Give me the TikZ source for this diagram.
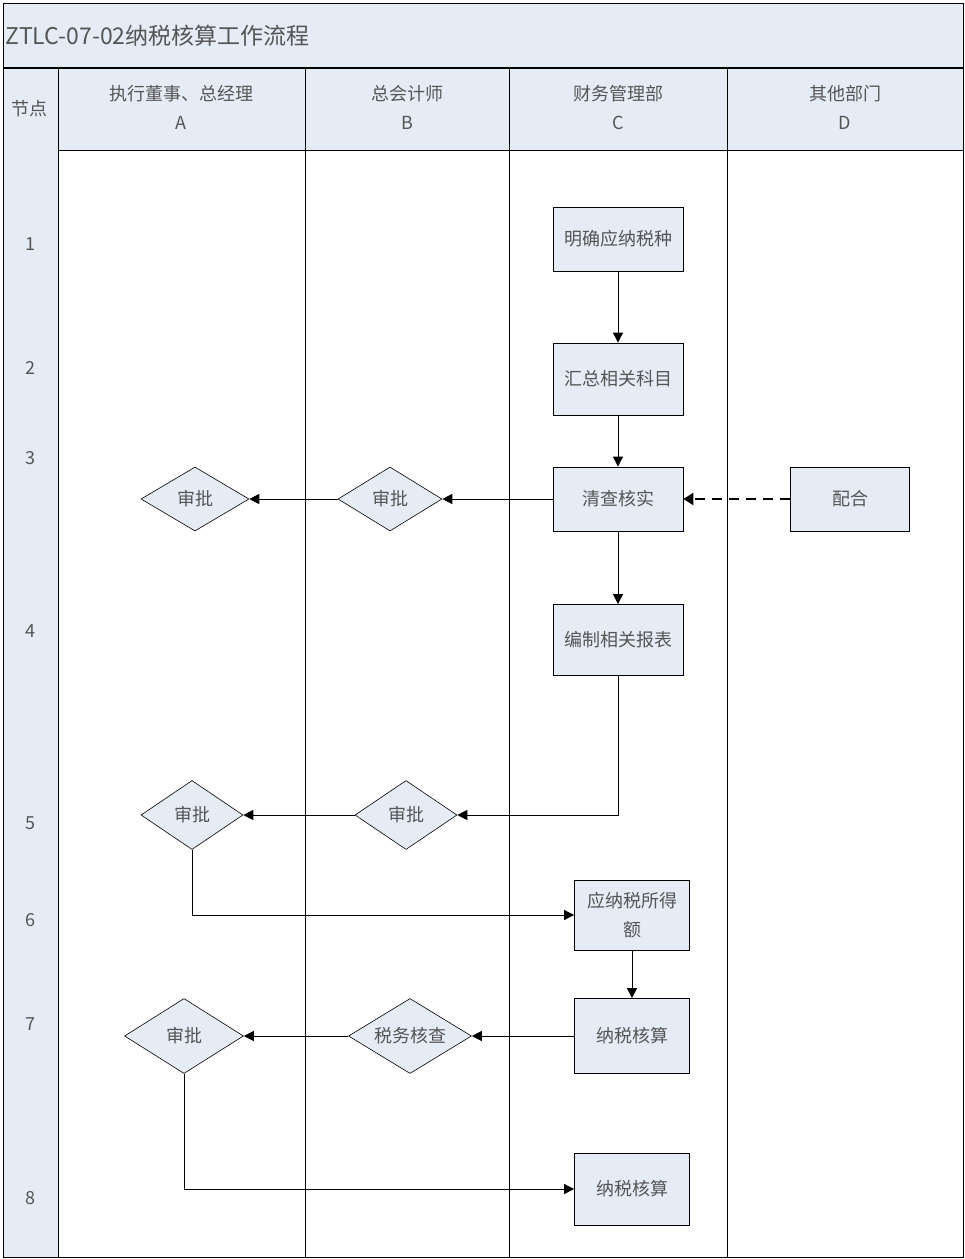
\documentclass[tikz,border=0pt]{standalone}
\usepackage{fontspec}
\setmainfont{Noto Sans CJK SC}
\usetikzlibrary{shapes.geometric,arrows.meta}
\definecolor{laneblue}{HTML}{E6ECF6}
\definecolor{txtgray}{HTML}{555555}
\tikzset{
  procbox/.style={draw=black, line width=0.8pt, fill=laneblue, text=txtgray, font=\fontsize{18}{29}\selectfont, inner sep=0pt, align=center},
  decbox/.style={draw=black, line width=0.6pt, fill=laneblue, text=txtgray, shape=diamond, aspect=1.6, inner sep=0pt, font=\fontsize{18}{22}\selectfont},
  flow/.style={draw=black, line width=0.9pt, -{Triangle[length=10pt,width=10pt]}},
  dflow/.style={draw=black, line width=2.6pt, dash pattern=on 10pt off 7pt, -{Triangle[length=10pt,width=12pt]}},
  lbl/.style={text=txtgray, font=\fontsize{18}{22}\selectfont, inner sep=0pt},
  frameline/.style={draw=black, line width=1pt}
}
\begin{document}
\begin{tikzpicture}[x=1pt,y=-1pt]
\useasboundingbox (0,0) rectangle (965,1259);
% backgrounds
\fill[laneblue] (3,3) rectangle (963,150);
\fill[laneblue] (3,68) rectangle (58,1257);
% frame lines
\draw[frameline] (3,3) rectangle (963,1257);
\draw[black, line width=2pt] (3,68) -- (963,68);
\draw[frameline] (58,150) -- (963,150);
\foreach \xx in {58,305,509,727} {\draw[frameline] (\xx,68) -- (\xx,1257);}
% title
\node[anchor=west, text=txtgray, font=\fontsize{23}{26}\selectfont, inner sep=0pt] (title) at (5,36) {ZTLC-07-02纳税核算工作流程};
% header
\node[lbl] (hnode) at (30,109) {节点};
\node[lbl] (hA1) at (181,94) {执行董事、总经理};
\node[lbl] (hA2) at (181,123) {A};
\node[lbl] (hB1) at (407,94) {总会计师};
\node[lbl] (hB2) at (407,123) {B};
\node[lbl] (hC1) at (618,94) {财务管理部};
\node[lbl] (hC2) at (618,123) {C};
\node[lbl] (hD1) at (845,94) {其他部门};
\node[lbl] (hD2) at (845,123) {D};
% row numbers
\node[lbl] (r1) at (30,244) {1};
\node[lbl] (r2) at (30,368) {2};
\node[lbl] (r3) at (30,458) {3};
\node[lbl] (r4) at (30,631) {4};
\node[lbl] (r5) at (30,823) {5};
\node[lbl] (r6) at (30,920) {6};
\node[lbl] (r7) at (30,1024) {7};
\node[lbl] (r8) at (30,1198) {8};
% process nodes
\node[procbox, minimum width=130pt, minimum height=64pt] (c1) at (618,239) {明确应纳税种};
\node[procbox, minimum width=130pt, minimum height=72pt] (c2) at (618,379) {汇总相关科目};
\node[procbox, minimum width=130pt, minimum height=64pt] (c3) at (618,499) {清查核实};
\node[procbox, minimum width=119pt, minimum height=64pt] (d3) at (850,499) {配合};
\node[procbox, minimum width=130pt, minimum height=71pt] (c4) at (618,640) {编制相关报表};
\node[procbox, minimum width=115pt, minimum height=70pt] (c6) at (632,915) {应纳税所得\\额};
\node[procbox, minimum width=115pt, minimum height=75pt] (c7) at (632,1036) {纳税核算};
\node[procbox, minimum width=115pt, minimum height=72pt] (c8) at (632,1189) {纳税核算};
% decisions
\node[decbox, minimum width=104pt, minimum height=64pt] (b3) at (390,499) {审批};
\node[decbox, minimum width=108pt, minimum height=64pt] (a3) at (195,499) {审批};
\node[decbox, minimum width=102pt, minimum height=69pt] (b5) at (406,815) {审批};
\node[decbox, minimum width=102pt, minimum height=69pt] (a5) at (192,815) {审批};
\node[decbox, minimum width=123pt, minimum height=75pt] (b7) at (410,1036) {税务核查};
\node[decbox, minimum width=119pt, minimum height=75pt] (a7) at (184,1036) {审批};
% connectors
\draw[flow] (c1) -- (c2);
\draw[flow] (c2) -- (c3);
\draw[flow] (c3) -- (b3);
\draw[flow] (b3) -- (a3);
\draw[dflow] (d3) -- (c3);
\draw[flow] (c3) -- (c4);
\draw[flow] (c4.south) |- (b5.east);
\draw[flow] (b5) -- (a5);
\draw[flow] (a5.south) |- (c6.west);
\draw[flow] (c6) -- (c7);
\draw[flow] (c7) -- (b7);
\draw[flow] (b7) -- (a7);
\draw[flow] (a7.south) |- (c8.west);
\end{tikzpicture}
\end{document}
